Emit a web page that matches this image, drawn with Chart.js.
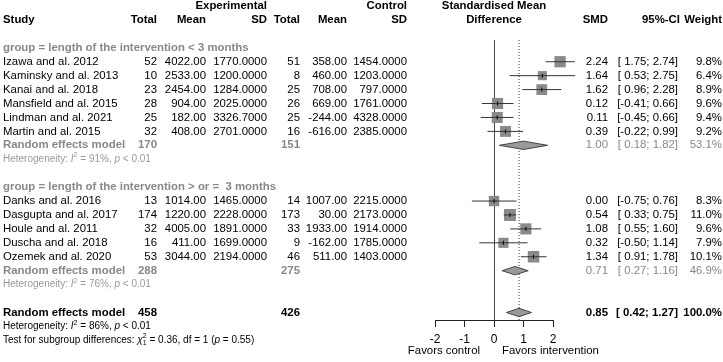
<!DOCTYPE html>
<html>
<head>
<meta charset="utf-8">
<script src="https://cdn.jsdelivr.net/npm/chart.js@4.4.0/dist/chart.umd.min.js"></script>
<style>
  body { margin: 0; background: #fff; }
  canvas { display: block; }
</style>
</head>
<body>
<canvas id="forest" width="723" height="362"></canvas>
<script>
// studies (in plot order) and the group each belongs to
var studies = ['Izawa and al. 2012', 'Kaminsky and al. 2013', 'Kanai and al. 2018', 'Mansfield and al. 2015',
  'Lindman and al. 2021', 'Martin and al. 2015', 'Danks and al. 2016', 'Dasgupta and al. 2017',
  'Houle and al. 2011', 'Duscha and al. 2018', 'Ozemek and al. 2020'];
var studyGroup = [0, 0, 0, 0, 0, 0, 1, 1, 1, 1, 1];
var groupLabels = ['group = length of the intervention < 3 months', 'group = length of the intervention > or =  3 months'];

var expN = [52, 10, 23, 28, 25, 32, 13, 174, 32, 16, 53];
var expMean = [4022, 2533, 2454, 904, 182, 408, 1014, 1220, 4005, 411, 3044];
var expSD = [1770, 1200, 1284, 2025, 3326.7, 2701, 1465, 2228, 1891, 1699, 2194];
var ctrlN = [51, 8, 25, 26, 25, 16, 14, 173, 33, 9, 46];
var ctrlMean = [358, 460, 708, 669, -244, -616, 1007, 30, 1933, -162, 511];
var ctrlSD = [1454, 1203, 797, 1761, 4328, 2385, 2215, 2173, 1914, 1785, 1403];
var smd = [2.24, 1.64, 1.62, 0.12, 0.11, 0.39, 0.00, 0.54, 1.08, 0.32, 1.34];
var ciLow = [1.75, 0.53, 0.96, -0.41, -0.45, -0.22, -0.75, 0.33, 0.55, -0.50, 0.91];
var ciHigh = [2.74, 2.75, 2.28, 0.66, 0.66, 0.99, 0.76, 0.75, 1.60, 1.14, 1.78];
var weight = [9.8, 6.4, 8.9, 9.6, 9.4, 9.2, 8.3, 11.0, 9.6, 7.9, 10.1];

// subgroup random effects results
var subExpN = [170, 288];
var subCtrlN = [151, 275];
var subSmd = [1.00, 0.71];
var subLow = [0.18, 0.27];
var subHigh = [1.82, 1.16];
var subWeight = [53.1, 46.9];
var subI2 = [91, 76];

// overall
var allExpN = 458, allCtrlN = 426;
var allSmd = 0.85, allLow = 0.42, allHigh = 1.27, allWeight = 100.0, allI2 = 86;
var testChi2 = 0.36, testDf = 1, testP = 0.55;

var xTicks = [-2, -1, 0, 1, 2];

var FONT = '"Liberation Sans", Arial, sans-serif';
var FS = 11.4;
var GREY = '#888';
var LIGHT = '#999';

// row layout
var groupRow = [], studyRow = [], reRow = [], hetRow = [];
var r = 3;
for (var g = 0; g < groupLabels.length; g++) {
  groupRow[g] = r++;
  for (var i = 0; i < studies.length; i++) {
    if (studyGroup[i] == g) studyRow[i] = r++;
  }
  reRow[g] = r++;
  hetRow[g] = r++;
  r++;
}
var allRow = r, allHetRow = r + 1, testRow = r + 2;
var rowTop = 2.44, rowBottom = 22.54;

function fmtCI(lo, hi) {
  return '[' + (lo < 0 ? '' : ' ') + lo.toFixed(2) + '; ' + hi.toFixed(2) + ']';
}

function diamond(est, lo, hi, row) {
  var h = 0.3;
  return [{x: lo, y: row}, {x: est, y: row - h}, {x: hi, y: row}, {x: est, y: row + h}, {x: lo, y: row}];
}

var datasets = [];

// CI lines
for (var i = 0; i < studies.length; i++) {
  datasets.push({
    type: 'line',
    data: [{x: ciLow[i], y: studyRow[i]}, {x: ciHigh[i], y: studyRow[i]}],
    borderColor: '#333',
    borderWidth: 1,
    pointRadius: 0,
    pointHoverRadius: 0,
    clip: false,
    order: 3
  });
}

// squares
datasets.push({
  type: 'scatter',
  data: studies.map(function(s, i) { return {x: smd[i], y: studyRow[i]}; }),
  pointStyle: 'rect',
  pointRadius: function(ctx) { return 2.55 * Math.sqrt(weight[ctx.dataIndex]); },
  pointHoverRadius: function(ctx) { return 2.55 * Math.sqrt(weight[ctx.dataIndex]); },
  backgroundColor: '#8a8a8a',
  borderWidth: 0,
  clip: false,
  order: 5
});

// small tick at each estimate
datasets.push({
  type: 'scatter',
  data: studies.map(function(s, i) { return {x: smd[i], y: studyRow[i]}; }),
  pointStyle: 'line',
  rotation: 90,
  pointRadius: 2,
  borderColor: '#000',
  borderWidth: 1,
  clip: false,
  order: 1
});

// diamonds
var dia = [];
for (var g = 0; g < groupLabels.length; g++) dia.push(diamond(subSmd[g], subLow[g], subHigh[g], reRow[g]));
dia.push(diamond(allSmd, allLow, allHigh, allRow));
dia.forEach(function(d) {
  datasets.push({
    type: 'line',
    data: d,
    fill: 'shape',
    backgroundColor: '#999',
    borderColor: '#444',
    borderWidth: 1,
    pointRadius: 0,
    pointHoverRadius: 0,
    clip: false,
    order: 2
  });
});

// dotted line at overall estimate
datasets.push({
  type: 'line',
  data: [{x: allSmd, y: rowTop}, {x: allSmd, y: rowBottom}],
  borderColor: '#333',
  borderWidth: 1,
  borderDash: [1, 2],
  pointRadius: 0,
  pointHoverRadius: 0,
  clip: false,
  order: 4
});

function drawRuns(ctx, runs, x, y, size, color) {
  var cx = x;
  ctx.fillStyle = color;
  ctx.textAlign = 'left';
  ctx.textBaseline = 'middle';
  runs.forEach(function(run) {
    if (run.sup || run.sub) {
      ctx.font = (size * 0.7) + 'px ' + FONT;
      var w = 0;
      if (run.sup) { ctx.fillText(run.sup, cx, y - size * 0.38); w = ctx.measureText(run.sup).width; }
      if (run.sub) { ctx.fillText(run.sub, cx, y + size * 0.3); w = Math.max(w, ctx.measureText(run.sub).width); }
      cx += w;
    } else {
      ctx.font = (run.it ? 'italic ' : '') + size + 'px ' + FONT;
      ctx.fillText(run.t, cx, y);
      cx += ctx.measureText(run.t).width;
    }
  });
}

var tablePlugin = {
  id: 'table',
  afterDraw: function(chart) {
    var ctx = chart.ctx;
    var ys = chart.scales.y;
    var xs = chart.scales.x;
    var x0 = xs.getPixelForValue(0);
    function Y(row) { return ys.getPixelForValue(row); }
    function txt(s, x, row, align, bold, color, size) {
      ctx.font = (bold ? 'bold ' : '') + (size || FS) + 'px ' + FONT;
      ctx.fillStyle = color || '#000';
      ctx.textAlign = align;
      ctx.textBaseline = 'middle';
      ctx.fillText(s, x, Y(row));
    }
    ctx.save();
    // headers
    txt('Experimental', 267, 0, 'right', true);
    txt('Control', 407, 0, 'right', true);
    txt('Standardised Mean', x0, 0, 'center', true);
    txt('Study', 3, 1, 'left', true);
    txt('Total', 157, 1, 'right', true);
    txt('Mean', 206, 1, 'right', true);
    txt('SD', 267, 1, 'right', true);
    txt('Total', 300, 1, 'right', true);
    txt('Mean', 347, 1, 'right', true);
    txt('SD', 407, 1, 'right', true);
    txt('Difference', x0, 1, 'center', true);
    txt('SMD', 608, 1, 'right', true);
    txt('95%-CI', 680, 1, 'right', true);
    txt('Weight', 722, 1, 'right', true);

    for (var i = 0; i < studies.length; i++) {
      var row = studyRow[i];
      txt(studies[i], 3, row, 'left');
      txt(String(expN[i]), 157, row, 'right');
      txt(expMean[i].toFixed(2), 206, row, 'right');
      txt(expSD[i].toFixed(4), 267, row, 'right');
      txt(String(ctrlN[i]), 300, row, 'right');
      txt(ctrlMean[i].toFixed(2), 347, row, 'right');
      txt(ctrlSD[i].toFixed(4), 407, row, 'right');
      txt(smd[i].toFixed(2), 608, row, 'right');
      txt(fmtCI(ciLow[i], ciHigh[i]), 678, row, 'right');
      txt(weight[i].toFixed(1) + '%', 722, row, 'right');
    }

    for (var g = 0; g < groupLabels.length; g++) {
      txt(groupLabels[g], 3, groupRow[g], 'left', true, GREY);
      txt('Random effects model', 3, reRow[g], 'left', true, GREY);
      txt(String(subExpN[g]), 157, reRow[g], 'right', true, GREY);
      txt(String(subCtrlN[g]), 300, reRow[g], 'right', true, GREY);
      txt(subSmd[g].toFixed(2), 608, reRow[g], 'right', false, GREY);
      txt(fmtCI(subLow[g], subHigh[g]), 678, reRow[g], 'right', false, GREY);
      txt(subWeight[g].toFixed(1) + '%', 722, reRow[g], 'right', false, GREY);
      drawRuns(ctx, [{t: 'Heterogeneity: '}, {t: 'I', it: true}, {sup: '2'}, {t: ' = ' + subI2[g] + '%, '},
        {t: 'p', it: true}, {t: ' < 0.01'}], 3, Y(hetRow[g]), 10, LIGHT);
    }

    txt('Random effects model', 3, allRow, 'left', true);
    txt(String(allExpN), 157, allRow, 'right', true);
    txt(String(allCtrlN), 300, allRow, 'right', true);
    txt(allSmd.toFixed(2), 608, allRow, 'right', true);
    txt(fmtCI(allLow, allHigh), 678, allRow, 'right', true);
    txt(allWeight.toFixed(1) + '%', 722, allRow, 'right', true);
    drawRuns(ctx, [{t: 'Heterogeneity: '}, {t: 'I', it: true}, {sup: '2'}, {t: ' = ' + allI2 + '%, '},
      {t: 'p', it: true}, {t: ' < 0.01'}], 3, Y(allHetRow), 10, '#000');
    drawRuns(ctx, [{t: 'Test for subgroup differences: '}, {t: 'χ', it: true}, {sup: '2', sub: String(testDf)},
      {t: ' = ' + testChi2.toFixed(2) + ', df = ' + testDf + ' ('}, {t: 'p', it: true}, {t: ' = ' + testP.toFixed(2) + ')'}],
      3, Y(testRow), 10, '#000');

    // favors labels
    ctx.font = FS + 'px ' + FONT;
    ctx.fillStyle = '#000';
    ctx.textBaseline = 'middle';
    ctx.textAlign = 'right';
    ctx.fillText('Favors control', x0 - 14, 351);
    ctx.textAlign = 'left';
    ctx.fillText('Favors intervention', x0 + 8, 351);
    ctx.restore();
  }
};

new Chart(document.getElementById('forest'), {
  type: 'scatter',
  data: { datasets: datasets },
  options: {
    responsive: false,
    animation: false,
    events: [],
    layout: { padding: { left: 435, right: 170, top: 40, bottom: 0 } },
    plugins: { legend: { display: false }, tooltip: { enabled: false } },
    scales: {
      x: {
        type: 'linear',
        min: -2,
        max: 2,
        afterBuildTicks: function(scale) { scale.ticks = xTicks.map(function(v) { return {value: v}; }); },
        afterFit: function(scale) { scale.height = 42; },
        ticks: { color: '#000', font: { family: FONT, size: 12 }, padding: 5, maxRotation: 0 },
        grid: {
          color: function(ctx) { return ctx.tick && ctx.tick.value === 0 ? '#444' : 'rgba(0,0,0,0)'; },
          tickColor: '#222',
          tickLength: 7,
          lineWidth: 1
        },
        border: { display: true, color: '#222', width: 1 }
      },
      y: {
        type: 'linear',
        display: false,
        reverse: true,
        min: rowTop,
        max: rowBottom
      }
    }
  },
  plugins: [tablePlugin]
});
</script>
</body>
</html>
